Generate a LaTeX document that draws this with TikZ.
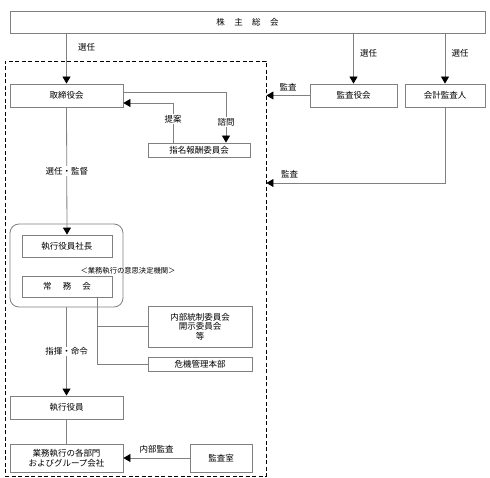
\documentclass[tikz,border=0pt]{standalone}
\usepackage{fontspec}
\setmainfont{Noto Sans CJK JP}
\usetikzlibrary{arrows.meta}
\tikzset{box/.style={draw=gray, line width=0.8pt, inner sep=0pt, align=center}}
\tikzset{conn/.style={draw=gray, line width=0.8pt}}
\tikzset{arr/.style={conn, -{Triangle[length=7pt,width=8pt,color=black]}}}
\tikzset{lbl/.style={inner sep=1pt, fill=white}}

\begin{document}
\begin{tikzpicture}[x=1pt, y=-1pt, font=\fontsize{8.5}{10}\selectfont]
    \useasboundingbox (0,0) rectangle (490,478);
    % frame of the board
    \node[draw, dash pattern=on 4pt off 2.5pt, line width=0.9pt, minimum width=261pt, minimum height=415pt, inner sep=0pt] (area) at (135.5,268.5) {};
    \node[box, minimum width=475pt, minimum height=22pt] (soukai) at (247.5,22) {株\hspace{1.1em}主\hspace{1.1em}総\hspace{1.1em}会};
    \node[box, minimum width=113pt, minimum height=23pt] (torishimari) at (66.5,95.5) {取締役会};
    \node[box, minimum width=87pt, minimum height=23pt] (kansayaku) at (353.5,95.5) {監査役会};
    \node[box, minimum width=80pt, minimum height=23pt] (kaikei) at (445,95.5) {会計監査人};
    \node[box, minimum width=102pt, minimum height=14pt] (shimei) at (199,150) {指名報酬委員会};
    \node[box, rounded corners=9pt, minimum width=113pt, minimum height=83pt] (keiei) at (66.5,265.5) {};
    \node[box, minimum width=90pt, minimum height=22pt] (shachou) at (67,246) {執行役員社長};
    \node[box, minimum width=90pt, minimum height=21pt] (joumu) at (67,286.5) {常\hspace{1.3em}務\hspace{1.3em}会};
    \node[font=\fontsize{7.3}{8}\selectfont] (kikan) at (128,271) {＜業務執行の意思決定機関＞};
    \node[box, minimum width=104pt, minimum height=41pt, font=\fontsize{8.5}{9.5}\selectfont] (naibu) at (200,326.5) {内部統制委員会\\開示委員会\\等};
    \node[box, minimum width=104pt, minimum height=14pt] (kiki) at (200,364) {危機管理本部};
    \node[box, minimum width=113pt, minimum height=23pt] (shikkou) at (66.5,407.5) {執行役員};
    \node[box, minimum width=113pt, minimum height=28pt, font=\fontsize{8.5}{10}\selectfont] (bumon) at (66.5,458) {業務執行の各部門\\およびグループ会社};
    \node[box, minimum width=62pt, minimum height=28pt] (kansashitsu) at (221,458) {監査室};

    % appointment
    \draw[arr] (soukai.south -| torishimari) -- (torishimari.north) node[pos=0.27, right=8pt] {選任};
    \draw[arr] (soukai.south -| kansayaku) -- (kansayaku.north) node[pos=0.39, right=3pt] {選任};
    \draw[arr] (soukai.south -| kaikei) -- (kaikei.north) node[pos=0.39, right=3pt] {選任};
    % audit
    \draw[arr] (kansayaku.west) -- (area.east |- kansayaku.west) node[midway, above=1pt] {監査};
    \coordinate (kaikeiturn) at (kaikei.south |- 0,183);
    \draw[arr] (kaikei.south) -- (kaikeiturn) -- (area.east |- kaikeiturn) node[pos=0.87, above=1pt] {監査};
    % committee
    \draw[arr] ([yshift=3.5pt]torishimari.east) -| ([xshift=27pt]shimei.north) node[pos=0.8, lbl] {諮問};
    \draw[arr] ([xshift=-26pt]shimei.north) |- ([yshift=-7.5pt]torishimari.east) node[pos=0.3, lbl] {提案};
    % execution
    \draw[arr] (torishimari.south) -- (shachou.north) node[pos=0.5, lbl] {選任・監督};
    \draw[conn] ([xshift=30pt]joumu.south) |- (kiki.west);
    \draw[conn] ([xshift=30pt]joumu.south |- naibu.west) -- (naibu.west);
    \draw[arr] (keiei.south) -- (shikkou.north) node[pos=0.5, lbl] {指揮・命令};
    \draw[conn] (shikkou.south) -- (bumon.north);
    \draw[arr] (kansashitsu.west) -- (bumon.east) node[midway, above=1pt] {内部監査};
\end{tikzpicture}
\end{document}
